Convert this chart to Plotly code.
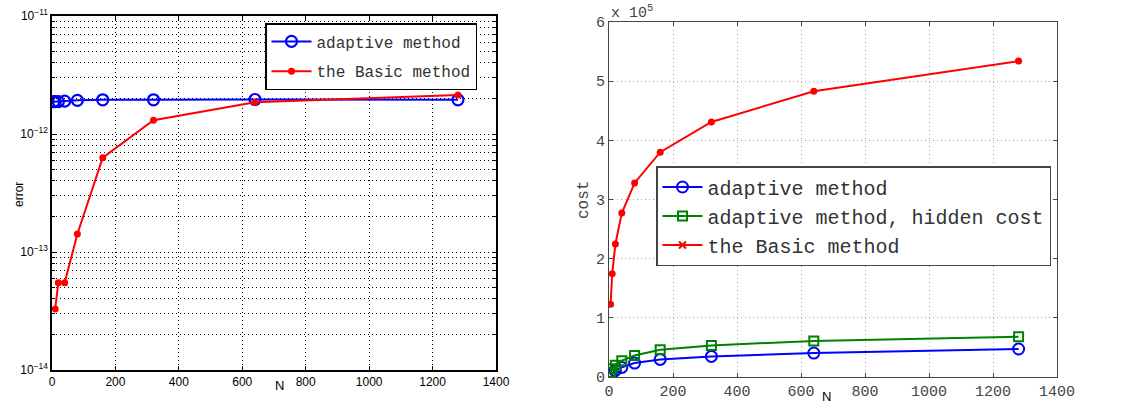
import plotly.graph_objects as go

# ---------------- data ----------------
N_err_adaptive = [5, 10, 20, 40, 80, 160, 320, 640, 1280]
err_adaptive = [1.88e-12, 1.88e-12, 1.88e-12, 1.90e-12, 1.93e-12, 1.95e-12, 1.95e-12, 1.96e-12, 1.95e-12]
N_err_basic = [10, 20, 40, 80, 160, 320, 640, 1280]
err_basic = [3.29e-14, 5.5e-14, 5.5e-14, 1.42e-13, 6.3e-13, 1.31e-12, 1.86e-12, 2.14e-12]

N_cost = [5, 10, 20, 40, 80, 160, 320, 640, 1280]
cost_adaptive = [3000, 6000, 11000, 16200, 23600, 29700, 34800, 40500, 47300]
cost_hidden = [8000, 14000, 20000, 27500, 36500, 46000, 53400, 61000, 68000]
cost_basic = [123000, 174500, 225000, 277000, 328000, 380000, 431000, 483000, 534000]

x_ticks = [0, 200, 400, 600, 800, 1000, 1200, 1400]
cost_ticks = [0, 100000, 200000, 300000, 400000, 500000, 600000]
cost_ticktext = ["0", "1", "2", "3", "4", "5", "6"]
decades = [-14, -13, -12, -11]

BLUE = "#0000ff"
RED = "#ff0000"
GREEN = "#008000"
W, H = 1130, 415

major_vals = [10.0 ** d for d in decades]
major_text = [f"10<sup>\u2212{abs(d)}</sup>" for d in decades]
minor_vals = [k * 10.0 ** d for d in decades[:-1] for k in range(2, 10)]

fig = go.Figure()

# left panel
fig.add_trace(go.Scatter(
    x=N_err_adaptive, y=err_adaptive, mode="lines+markers", name="adaptive method",
    line=dict(color=BLUE, width=2),
    marker=dict(symbol="circle-open", size=11, color=BLUE, line=dict(width=2.2)),
    xaxis="x", yaxis="y", legend="legend", legendgroup="a"))
fig.add_trace(go.Scatter(
    x=N_err_basic, y=err_basic, mode="lines+markers", name="the Basic method",
    line=dict(color=RED, width=2),
    marker=dict(symbol="circle", size=7, color=RED),
    xaxis="x", yaxis="y", legend="legend", legendgroup="b"))

# right panel
fig.add_trace(go.Scatter(
    x=N_cost, y=cost_adaptive, mode="lines+markers", name="adaptive method",
    line=dict(color=BLUE, width=2),
    marker=dict(symbol="circle-open", size=11, color=BLUE, line=dict(width=2)),
    xaxis="x2", yaxis="y2", legend="legend2", legendgroup="c"))
fig.add_trace(go.Scatter(
    x=N_cost, y=cost_hidden, mode="lines+markers", name="adaptive method, hidden cost",
    line=dict(color=GREEN, width=2),
    marker=dict(symbol="square-open", size=9, color=GREEN, line=dict(width=2)),
    xaxis="x2", yaxis="y2", legend="legend2", legendgroup="d"))
fig.add_trace(go.Scatter(
    x=N_cost, y=cost_basic, mode="lines+markers", name="the Basic method",
    line=dict(color=RED, width=2),
    marker=dict(symbol="circle", size=7, color=RED),
    xaxis="x2", yaxis="y2", showlegend=False))
# legend-only entry (reference legend shows an x marker for this series)
fig.add_trace(go.Scatter(
    x=[None], y=[None], mode="lines+markers", name="the Basic method",
    line=dict(color=RED, width=2),
    marker=dict(symbol="x-thin-open", size=7, color=RED, line=dict(width=2, color=RED)),
    xaxis="x2", yaxis="y2", legend="legend2", legendgroup="e"))

L0, L1 = 52 / W, 496 / W
LB, LT = 1 - 370 / H, 1 - 16 / H
R0, R1 = 609 / W, 1057 / W
RB, RT = 1 - 377 / H, 1 - 22 / H

left_font = dict(family="Liberation Sans, Arial", size=12, color="#000")
mono = "Liberation Mono, Courier New, monospace"
right_font = dict(family=mono, size=15, color="#444")

fig.update_layout(
    width=W, height=H, margin=dict(l=0, r=0, t=0, b=0),
    paper_bgcolor="white", plot_bgcolor="white",
    xaxis=dict(domain=[L0, L1], range=[0, 1400], tickvals=x_ticks,
               showgrid=True, gridcolor="#000", griddash="1px,3px", gridwidth=1,
               zeroline=False, showline=True, linecolor="#000", linewidth=1.5, mirror="ticks",
               ticks="inside", ticklen=4, tickcolor="#000", tickfont=left_font,
               anchor="y", automargin=False),
    yaxis=dict(domain=[LB, LT], type="log", range=[-14, -11],
               tickvals=major_vals, ticktext=major_text,
               showgrid=True, gridcolor="#000", griddash="1px,3px", gridwidth=1,
               zeroline=False, showline=True, linecolor="#000", linewidth=1.5, mirror="ticks",
               ticks="inside", ticklen=4, tickcolor="#000", tickfont=left_font,
               minor=dict(tickvals=minor_vals, ticks="inside", ticklen=3, tickcolor="#000",
                          showgrid=True, gridcolor="#000", griddash="1px,3px", gridwidth=1),
               anchor="x", automargin=False),
    xaxis2=dict(domain=[R0, R1], range=[0, 1400], tickvals=x_ticks,
                showgrid=True, gridcolor="#aaa", griddash="1px,3px", gridwidth=1,
                zeroline=False, showline=True, linecolor="#444", linewidth=1, mirror="ticks",
                ticks="inside", ticklen=4, tickcolor="#444", tickfont=right_font,
                anchor="y2", automargin=False),
    yaxis2=dict(domain=[RB, RT], range=[0, 600000], tickvals=cost_ticks, ticktext=cost_ticktext,
                showgrid=True, gridcolor="#aaa", griddash="1px,3px", gridwidth=1,
                zeroline=False, showline=True, linecolor="#444", linewidth=1, mirror="ticks",
                ticks="inside", ticklen=4, tickcolor="#444", tickfont=right_font,
                anchor="x2", automargin=False),
    legend=dict(x=265 / W, y=1 - 23 / H, xanchor="left", yanchor="top",
                bgcolor="white", bordercolor="#000", borderwidth=1.5,
                font=dict(family=mono, size=16, color="#333"),
                traceorder="grouped", tracegroupgap=6, itemwidth=40),
    legend2=dict(x=656 / W, y=1 - 166 / H, xanchor="left", yanchor="top",
                 bgcolor="white", bordercolor="#444", borderwidth=1.5,
                 font=dict(family=mono, size=20, color="#333"),
                 traceorder="grouped", tracegroupgap=0, itemwidth=40),
    showlegend=True,
)

fig.add_annotation(text="error", x=10 / W, y=1 - 195 / H, xref="paper", yref="paper",
                   textangle=-90, showarrow=False, font=dict(family="Liberation Sans, Arial", size=12, color="#000"))
fig.add_annotation(text="N", x=273 / W, y=1 - 395 / H, xref="paper", yref="paper",
                   showarrow=False, font=dict(family="Liberation Sans, Arial", size=13, color="#000"))
fig.add_annotation(text="cost", x=584 / W, y=1 - 200 / H, xref="paper", yref="paper",
                   textangle=-90, showarrow=False, font=dict(family=mono, size=16, color="#444"))
fig.add_annotation(text="N", x=833 / W, y=1 - 406 / H, xref="paper", yref="paper",
                   showarrow=False, font=dict(family="Liberation Sans, Arial", size=13, color="#000"))
fig.add_annotation(text="x 10<sup>5</sup>", x=R0, y=RT, xref="paper", yref="paper",
                   xanchor="left", yanchor="bottom", showarrow=False, yshift=-2,
                   font=dict(family=mono, size=15, color="#444"))

fig.write_html("out.html")
